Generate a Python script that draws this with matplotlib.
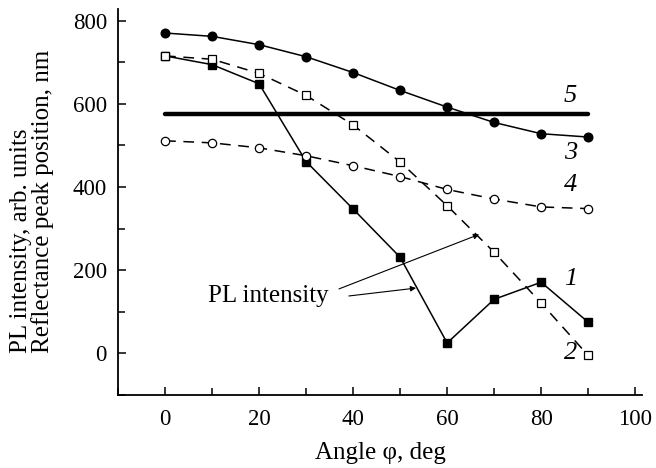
import matplotlib
matplotlib.use("Agg")
import matplotlib.pyplot as plt
from matplotlib.ticker import MultipleLocator

plt.rcParams['font.family'] = ['Liberation Serif', 'DejaVu Serif']

angle = [0, 10, 20, 30, 40, 50, 60, 70, 80, 90]
s1_pl = [715, 694, 648, 461, 347, 231, 25, 130, 171, 75]
s2_pl = [715, 707, 673, 620, 549, 460, 355, 243, 121, -5]
s3_refl = [770, 762, 742, 713, 675, 632, 592, 555, 528, 520]
s4_refl = [511, 506, 494, 475, 451, 425, 394, 371, 352, 348]
s5_level = 576
s5_x = [0, 90]

fig = plt.figure(figsize=(6.56, 4.68), dpi=100)
ax = fig.add_axes([0.18, 0.156, 0.799, 0.825])

lw = 1.1
ax.plot(angle, s3_refl, '-', color='black', lw=lw, marker='o', ms=6.2,
        mfc='black', mec='black', zorder=3)
ax.plot(angle, s1_pl, '-', color='black', lw=lw, marker='s', ms=5.2,
        mfc='black', mec='black', zorder=3)
ax.plot(angle, s2_pl, color='black', lw=lw, ls=(0, (7, 5)), marker='s', ms=5.5,
        mfc='white', mec='black', mew=0.9, zorder=4)
ax.plot(angle, s4_refl, color='black', lw=lw, ls=(0, (7, 5)), marker='o', ms=6,
        mfc='white', mec='black', mew=0.9, zorder=4)
ax.plot(s5_x, [s5_level, s5_level], '-', color='black', lw=3.2,
        solid_capstyle='round', zorder=2)

ax.set_xlim(-10, 101.5)
ax.set_ylim(-100, 828)

for sp in ['top', 'right']:
    ax.spines[sp].set_visible(False)
for sp in ['left', 'bottom']:
    ax.spines[sp].set_linewidth(1.3)

ax.xaxis.set_major_locator(MultipleLocator(20))
ax.xaxis.set_minor_locator(MultipleLocator(10))
ax.yaxis.set_minor_locator(MultipleLocator(100))
ax.set_yticks([0, 200, 400, 600, 800])
ax.tick_params(which='both', direction='in', width=1.1, labelsize=16.5)
ax.tick_params(which='major', length=6)
ax.tick_params(which='minor', length=5)
ax.tick_params(axis='x', pad=10)
ax.tick_params(axis='y', pad=8)

ax.set_xlabel('Angle φ, deg', fontsize=18, labelpad=9)
fig.text(0.049, 0.246, 'PL intensity, arb. units\nReflectance peak position, nm',
         fontsize=18, rotation=90, ha='center', va='bottom',
         multialignment='left', linespacing=0.95)

lab = dict(fontsize=19, style='italic', ha='center', va='center')
ax.text(86.2, 619, '5', **lab)
ax.text(86.2, 481, '3', **lab)
ax.text(86.2, 405, '4', **lab)
ax.text(86.2, 179, '1', **lab)
ax.text(86.2, 0, '2', **lab)

ax.text(22, 138, 'PL intensity', fontsize=18, ha='center', va='center')
arrow = dict(arrowstyle='-|>', color='black', lw=0.8, mutation_scale=8,
             shrinkA=0, shrinkB=0)
ax.annotate('', xy=(66.8, 286), xytext=(37, 155), arrowprops=arrow)
ax.annotate('', xy=(53.4, 157), xytext=(39.1, 138), arrowprops=arrow)

fig.savefig('out.png', dpi=100)
